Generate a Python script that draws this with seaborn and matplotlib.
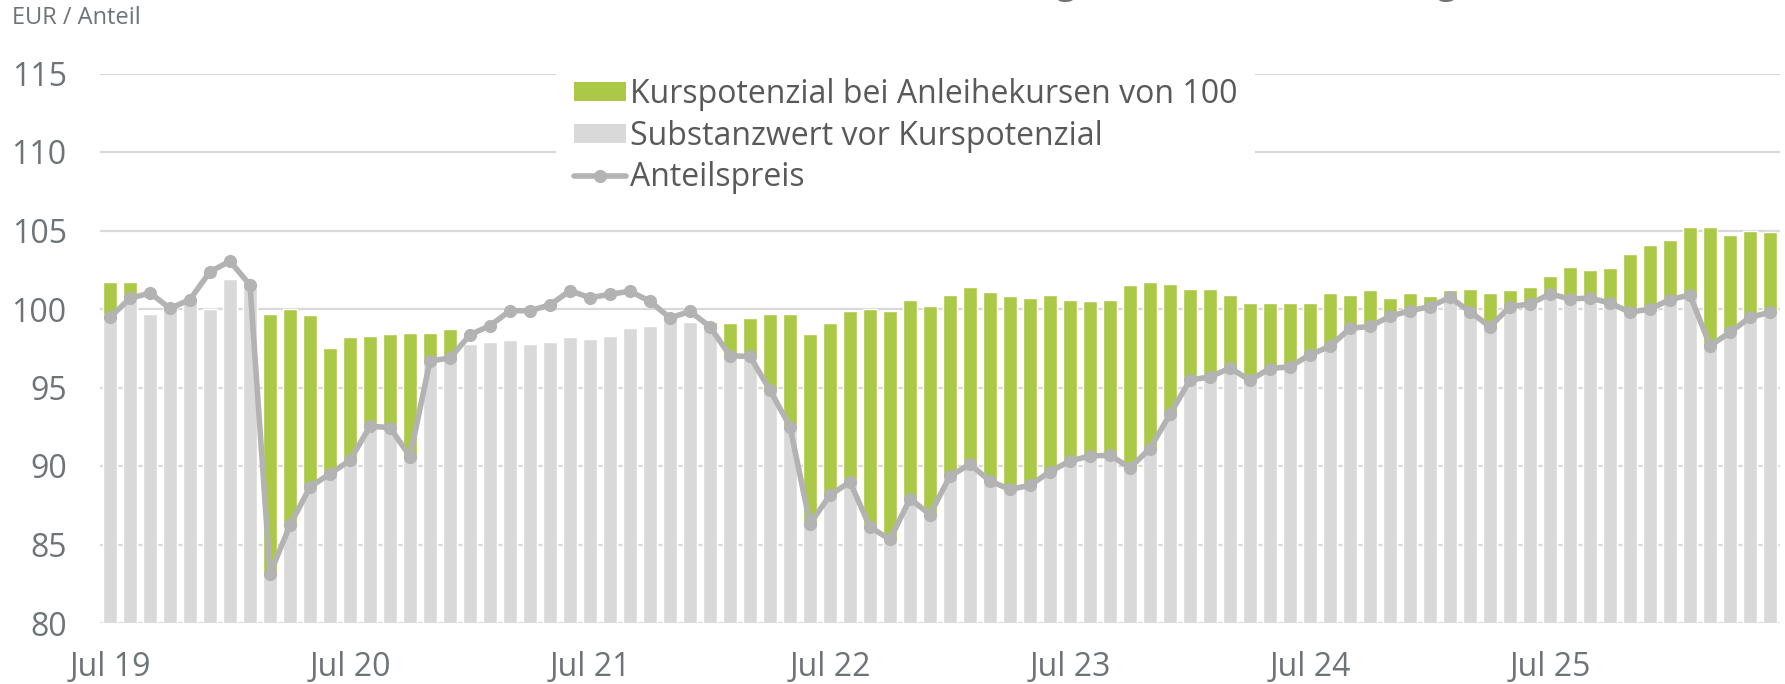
import numpy as np
import pandas as pd
import matplotlib
matplotlib.use("Agg")
import matplotlib.pyplot as plt
from matplotlib.patches import Patch
from matplotlib.lines import Line2D
import seaborn as sns

# ---------------- data ----------------
monate = pd.date_range("2019-07-01", periods=84, freq="MS").strftime("%b %y").tolist()

substanzwert = [
    99.6, 100.6, 99.7, 100.0, 100.5, 100.0, 101.9, 101.5, 83.1, 86.2,
    88.7, 89.5, 90.4, 92.5, 92.5, 90.6, 96.7, 96.9, 97.8, 97.9,
    98.0, 97.8, 97.9, 98.2, 98.1, 98.3, 98.8, 98.9, 99.4, 99.2,
    98.9, 97.0, 97.0, 94.8, 92.5, 86.3, 88.1, 89.0, 86.1, 85.3,
    87.9, 86.9, 89.3, 90.1, 89.0, 88.5, 88.8, 89.6, 90.3, 90.6,
    90.7, 89.9, 91.1, 93.3, 95.4, 95.7, 96.2, 95.4, 96.2, 96.3,
    97.1, 97.6, 98.7, 98.9, 99.5, 99.9, 100.1, 100.7, 99.8, 98.8,
    100.1, 100.3, 100.9, 100.6, 100.7, 100.4, 99.8, 100.0, 100.6, 100.9,
    97.6, 98.5, 99.4, 99.8,
]

kurspotenzial = [
    2.1, 1.1, 0.0, 0.0, 0.0, 0.0, 0.0, 0.0, 16.6, 13.8,
    10.9, 8.0, 7.8, 5.8, 5.9, 7.9, 1.8, 1.8, 0.0, 0.0,
    0.0, 0.0, 0.0, 0.0, 0.0, 0.0, 0.0, 0.0, 0.0, 0.0,
    0.3, 2.1, 2.4, 4.9, 7.2, 12.1, 11.0, 10.9, 13.9, 14.6,
    12.7, 13.3, 11.6, 11.3, 12.1, 12.3, 11.9, 11.3, 10.3, 9.9,
    9.9, 11.6, 10.6, 8.3, 5.9, 5.6, 4.7, 5.0, 4.2, 4.1,
    3.3, 3.4, 2.2, 2.3, 1.2, 1.1, 0.7, 0.5, 1.5, 2.2,
    1.1, 1.1, 1.2, 2.1, 1.8, 2.2, 3.7, 4.1, 3.8, 4.3,
    7.6, 6.2, 5.6, 5.1,
]

anteilspreis = [
    99.47, 100.68, 101.02, 100.04, 100.6, 102.38, 103.04, 101.53, 83.13, 86.23,
    88.66, 89.51, 90.36, 92.53, 92.45, 90.6, 96.7, 96.87, 98.36, 98.94,
    99.89, 99.89, 100.26, 101.17, 100.72, 100.94, 101.13, 100.49, 99.43, 99.85,
    98.87, 97.02, 96.98, 94.83, 92.51, 86.32, 88.15, 88.98, 86.11, 85.32,
    87.91, 86.91, 89.36, 90.11, 89.04, 88.51, 88.77, 89.64, 90.32, 90.64,
    90.68, 89.89, 91.11, 93.3, 95.47, 95.68, 96.23, 95.47, 96.21, 96.32,
    97.09, 97.62, 98.77, 98.89, 99.53, 99.89, 100.15, 100.74, 99.83, 98.87,
    100.15, 100.32, 100.96, 100.64, 100.7, 100.38, 99.79, 100.0, 100.6, 100.89,
    97.66, 98.51, 99.47, 99.79,
]

tick_labels = ["Jul 19", "Jul 20", "Jul 21", "Jul 22", "Jul 23", "Jul 24", "Jul 25"]
y_ticks = [80, 85, 90, 95, 100, 105, 110, 115]

legend_labels = ["Kurspotenzial bei Anleihekursen von 100",
                 "Substanzwert vor Kurspotenzial",
                 "Anteilspreis"]

assert len(monate) == len(substanzwert) == len(kurspotenzial) == len(anteilspreis)

df = pd.DataFrame({
    "Monat": monate,
    "Substanzwert": substanzwert,
    "Gesamt": np.array(substanzwert) + np.array(kurspotenzial),
    "Anteilspreis": anteilspreis,
})
df["pos"] = np.arange(len(df))

# ---------------- style ----------------
GREEN = "#ABC946"
GREY_BAR = "#D9D9D9"
LINE = "#B3B3B3"
GRID = "#D9D9D9"
TXT = "#6E7378"
LEG_TXT = "#595959"

sns.set_style("white")
plt.rcParams["font.family"] = ["Open Sans", "DejaVu Sans"]

fig = plt.figure(figsize=(17.85, 6.84), dpi=100)
ax = fig.add_axes([100 / 1785, 61 / 684, (1780 - 100) / 1785, (623 - 73.5) / 684])

sns.barplot(data=df, x="Monat", y="Gesamt", color=GREEN, saturation=1,
            width=0.665, ax=ax, zorder=2)
sns.barplot(data=df, x="Monat", y="Substanzwert", color=GREY_BAR, saturation=1,
            width=0.665, ax=ax, zorder=3)
sns.lineplot(data=df, x="pos", y="Anteilspreis", color=LINE, lw=4,
             marker="o", markersize=9.5, markeredgewidth=0, ax=ax, zorder=4)

ax.set_ylim(80, 115)
ax.set_xlim(-0.5, 83.5)
ax.set_yticks(y_ticks)
ax.set_yticklabels([str(v) for v in y_ticks])
ax.set_xticks([0, 12, 24, 36, 48, 60, 72])
ax.set_xticklabels(tick_labels)
ax.tick_params(axis="y", length=0, pad=24, labelsize=23, labelcolor=TXT)
ax.tick_params(axis="x", length=0, pad=20, labelsize=23, labelcolor=TXT)
ax.set_xlabel("")
ax.set_ylabel("")
ax.yaxis.grid(True, color=GRID, lw=1.6, zorder=0)
ax.xaxis.grid(False)
ax.set_axisbelow(True)
for s in ax.spines.values():
    s.set_visible(False)

handles = [
    Patch(facecolor=GREEN, edgecolor="none"),
    Patch(facecolor=GREY_BAR, edgecolor="none"),
    Line2D([0], [0], color=LINE, lw=4, marker="o", markersize=9.5, markeredgewidth=0),
]
leg = fig.legend(handles, legend_labels, loc="upper left",
                 bbox_to_anchor=(556 / 1785, 1 - 60 / 684),
                 bbox_transform=fig.transFigure,
                 fontsize=23, frameon=True, facecolor="white", edgecolor="none",
                 framealpha=1, fancybox=False, handlelength=1.65, handleheight=0.55,
                 handletextpad=0.12, labelspacing=0.28, borderpad=0.55,
                 borderaxespad=0)
for t in leg.get_texts():
    t.set_color(LEG_TXT)
leg.set_zorder(10)

fig.text(12 / 1785, 1 - 18 / 684, "EUR / Anteil", fontsize=17, color=TXT,
         ha="left", va="center")
fig.text(1002 / 1785, 1 + 6 / 684, "(Angaben vor Ausschüttung)", fontsize=25.5,
         color=TXT, ha="left", va="baseline")

fig.savefig("out.png", dpi=100, facecolor="white")
